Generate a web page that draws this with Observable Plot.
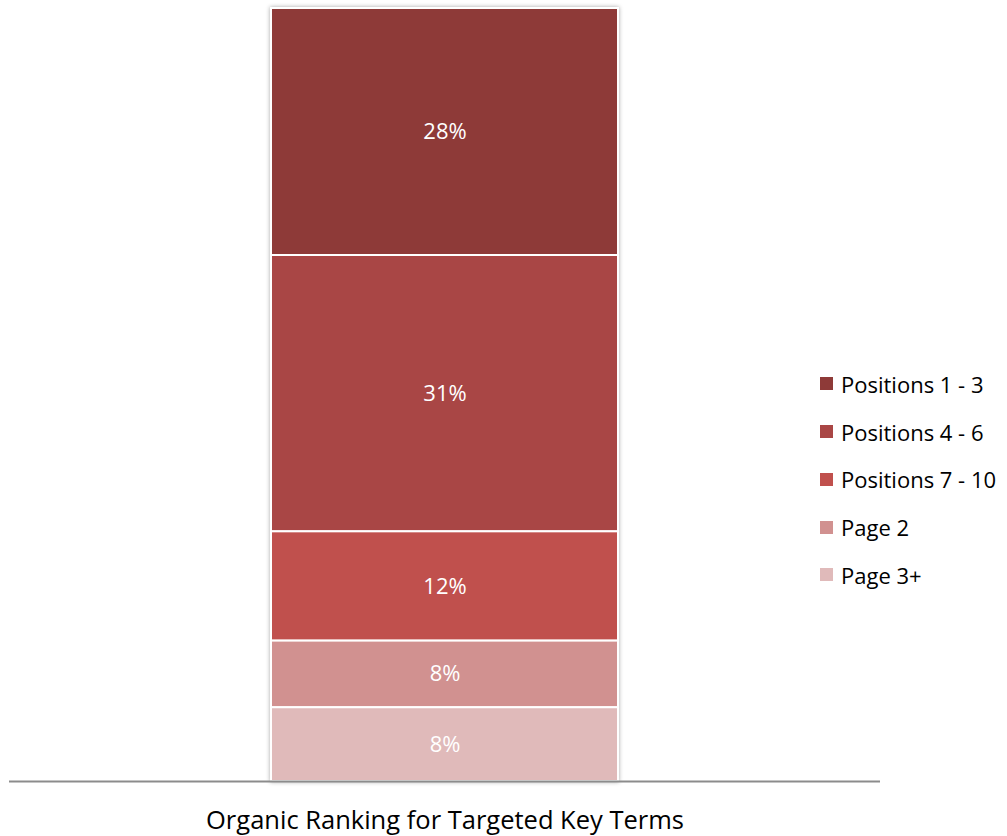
<!DOCTYPE html>
<html>
<head>
<meta charset="utf-8">
<script src="https://cdn.jsdelivr.net/npm/d3@7"></script>
<script src="https://cdn.jsdelivr.net/npm/@observablehq/plot@0.6"></script>
<style>
  html, body { margin: 0; padding: 0; background: #fff; }
  #wrap { position: relative; width: 1007px; height: 836px; font-family: "Open Sans", sans-serif; }
  #wrap svg g[aria-label="bar"] { filter: drop-shadow(0px 0px 2px rgba(0,0,0,0.35)); }
  #legend { position: absolute; left: 820px; top: 360px; }
  .item { display: flex; align-items: center; height: 47.75px; font-size: 22px; color: #000; white-space: nowrap; }
  .sw { width: 13px; height: 13px; margin-right: 8px; flex: none; }
</style>
</head>
<body>
<div id="wrap"><div id="legend"></div></div>
<script>
const category = "Organic Ranking for Targeted Key Terms";
const series = ["Positions 1 - 3", "Positions 4 - 6", "Positions 7 - 10", "Page 2", "Page 3+"];
const values = [27.8, 31.1, 12.3, 7.5, 8.3];
const colors = ["#8e3a38", "#a94645", "#c0504d", "#d19190", "#e0baba"];

const data = series.map((s, i) => ({category, series: s, value: values[i]}));
const total = d3.sum(values);

const chart = Plot.plot({
  width: 1007,
  height: 836,
  marginTop: 8,
  marginBottom: 55,
  marginLeft: 9,
  marginRight: 127,
  style: {fontFamily: "'Open Sans', sans-serif", color: "#000", background: "transparent"},
  x: {domain: [category], padding: 0.43, label: null},
  y: {domain: [0, total], axis: null},
  color: {domain: series, range: colors},
  marks: [
    Plot.barY(data, {x: "category", y: "value", fill: "series", stroke: "#fff", strokeWidth: 2, reverse: true}),
    Plot.text(data, Plot.stackY({x: "category", y: "value", z: "series", reverse: true,
      text: d => Math.round(d.value) + "%", fill: "#fff", fontSize: 22})),
    Plot.ruleY([0], {stroke: "#8c8c8c", strokeWidth: 2}),
    Plot.axisX({tickSize: 0, tickPadding: 29, fontSize: 25.5, fill: "#000"})
  ]
});
document.getElementById("wrap").prepend(chart);

const legend = d3.select("#legend");
series.forEach((s, i) => {
  const it = legend.append("div").attr("class", "item");
  it.append("div").attr("class", "sw").style("background", colors[i]);
  it.append("span").text(s);
});
</script>
</body>
</html>
